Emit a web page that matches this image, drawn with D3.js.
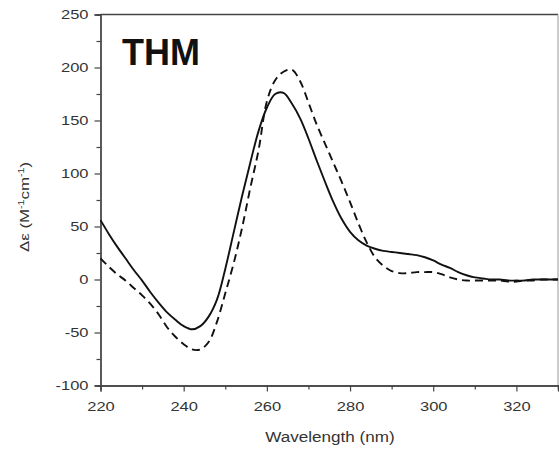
<!DOCTYPE html>
<html>
<head>
<meta charset="utf-8">
<script src="https://cdn.jsdelivr.net/npm/d3@7"></script>
<style>
  body { margin: 0; background: #fff; }
  text { font-family: "Liberation Sans", Arial, sans-serif; }
</style>
</head>
<body>
<svg id="chart" width="559" height="452"></svg>
<script>
// wavelengths (nm), every 2 nm
const wavelengths = d3.range(220, 331, 2);

// solid curve
const solidCD = [56, 43, 31, 20, 9, -1, -12, -22, -31, -38, -44, -47, -44, -35, -19, 10,
  44, 78, 110, 140, 162, 175, 176, 166, 152, 133, 112, 92, 73, 57, 45, 37, 32, 29, 27, 26,
  25, 24, 23, 21, 18, 14, 11, 7, 4, 2, 1, 0, 0, -1, -1, -1, 0, 0, 0, 0];

// dashed curve
const dashedCD = [20, 12, 5, -1, -8, -15, -23, -33, -45, -54, -61, -66, -66, -59, -40, -13,
  15, 48, 86, 122, 168, 188, 196, 198, 187, 167, 146, 128, 110, 92, 73, 53, 35, 21, 13, 8,
  6, 6, 7, 7, 7, 5, 2, 0, -1, -1, -1, -1, -1, -2, -2, -1, -1, 0, 0, 0];

const xTicks = [220, 240, 260, 280, 300, 320];
const yTicks = [-100, -50, 0, 50, 100, 150, 200, 250];

const svg = d3.select("#chart");
const mLeft = 100.5, mRight = 558, mTop = 14.5, mBottom = 385.5;

const x = d3.scaleLinear().domain([220, 330]).range([mLeft, mRight]);
const y = d3.scaleLinear().domain([-100, 250]).range([mBottom, mTop]);

const axisColor = "#444";
// the axis text in the picture is drawn a little wider than plain Arial
function stretch(sel, widen) {
  sel.each(function () {
    const w = this.getComputedTextLength();
    if (w > 0) d3.select(this).attr("textLength", w * widen).attr("lengthAdjust", "spacingAndGlyphs");
  });
}

// frame (top and right)
svg.append("line").attr("x1", mLeft).attr("x2", mRight).attr("y1", mTop).attr("y2", mTop)
  .attr("stroke", axisColor).attr("stroke-width", 1.3);
svg.append("line").attr("x1", mRight).attr("x2", mRight).attr("y1", mTop).attr("y2", mBottom)
  .attr("stroke", "#999").attr("stroke-width", 1);

// minor ticks
const gx = svg.append("g").attr("transform", `translate(0,${mBottom})`);
gx.call(d3.axisBottom(x).tickValues(d3.range(230, 331, 20)).tickSize(4).tickFormat(""));
const gxMajor = svg.append("g").attr("transform", `translate(0,${mBottom})`);
gxMajor.call(d3.axisBottom(x).tickValues(xTicks).tickSize(6).tickPadding(9.5).tickFormat(d => String(d)));

const gy = svg.append("g").attr("transform", `translate(${mLeft},0)`);
gy.call(d3.axisLeft(y).tickValues(d3.range(-75, 250, 50)).tickSize(4).tickFormat(""));
const gyMajor = svg.append("g").attr("transform", `translate(${mLeft},0)`);
gyMajor.call(d3.axisLeft(y).tickValues(yTicks).tickSize(6).tickPadding(6).tickFormat(d => String(d)));

svg.selectAll("g").attr("font-size", 13.5).attr("font-family", "'Liberation Sans', Arial, sans-serif");
svg.selectAll(".domain").attr("stroke", axisColor).attr("stroke-width", 1.3);
svg.selectAll(".tick line").attr("stroke", axisColor).attr("stroke-width", 1.2);
svg.selectAll(".tick text").attr("fill", "#333").call(stretch, 1.22);

// curves
const line = values => d3.line()
  .x((d, i) => x(wavelengths[i]))
  .y(d => y(d))
  .curve(d3.curveCatmullRom.alpha(0.5))(values);

svg.append("path").attr("d", line(dashedCD))
  .attr("fill", "none").attr("stroke", "#111").attr("stroke-width", 1.9)
  .attr("stroke-dasharray", "8,5");
svg.append("path").attr("d", line(solidCD))
  .attr("fill", "none").attr("stroke", "#111").attr("stroke-width", 1.9);

// title
svg.append("text").attr("x", 122).attr("y", 65)
  .style("font-size", "36px").style("font-weight", "bold").attr("fill", "#111")
  .text("THM");

// x label
svg.append("text").attr("x", 330).attr("y", 442).attr("text-anchor", "middle")
  .attr("font-size", 14).attr("fill", "#333").text("Wavelength (nm)").call(stretch, 1.22);

// y label
const yl = svg.append("text").attr("transform", "translate(29,207) rotate(-90)")
  .attr("text-anchor", "middle").attr("font-size", 13.5).attr("fill", "#333");
yl.append("tspan").text("Δε (M");
yl.append("tspan").attr("dy", -5).attr("font-size", 8.5).text("-1");
yl.append("tspan").attr("dy", 5).text("cm");
yl.append("tspan").attr("dy", -5).attr("font-size", 8.5).text("-1");
yl.append("tspan").attr("dy", 5).text(")");
yl.call(stretch, 1.25);
</script>
</body>
</html>
